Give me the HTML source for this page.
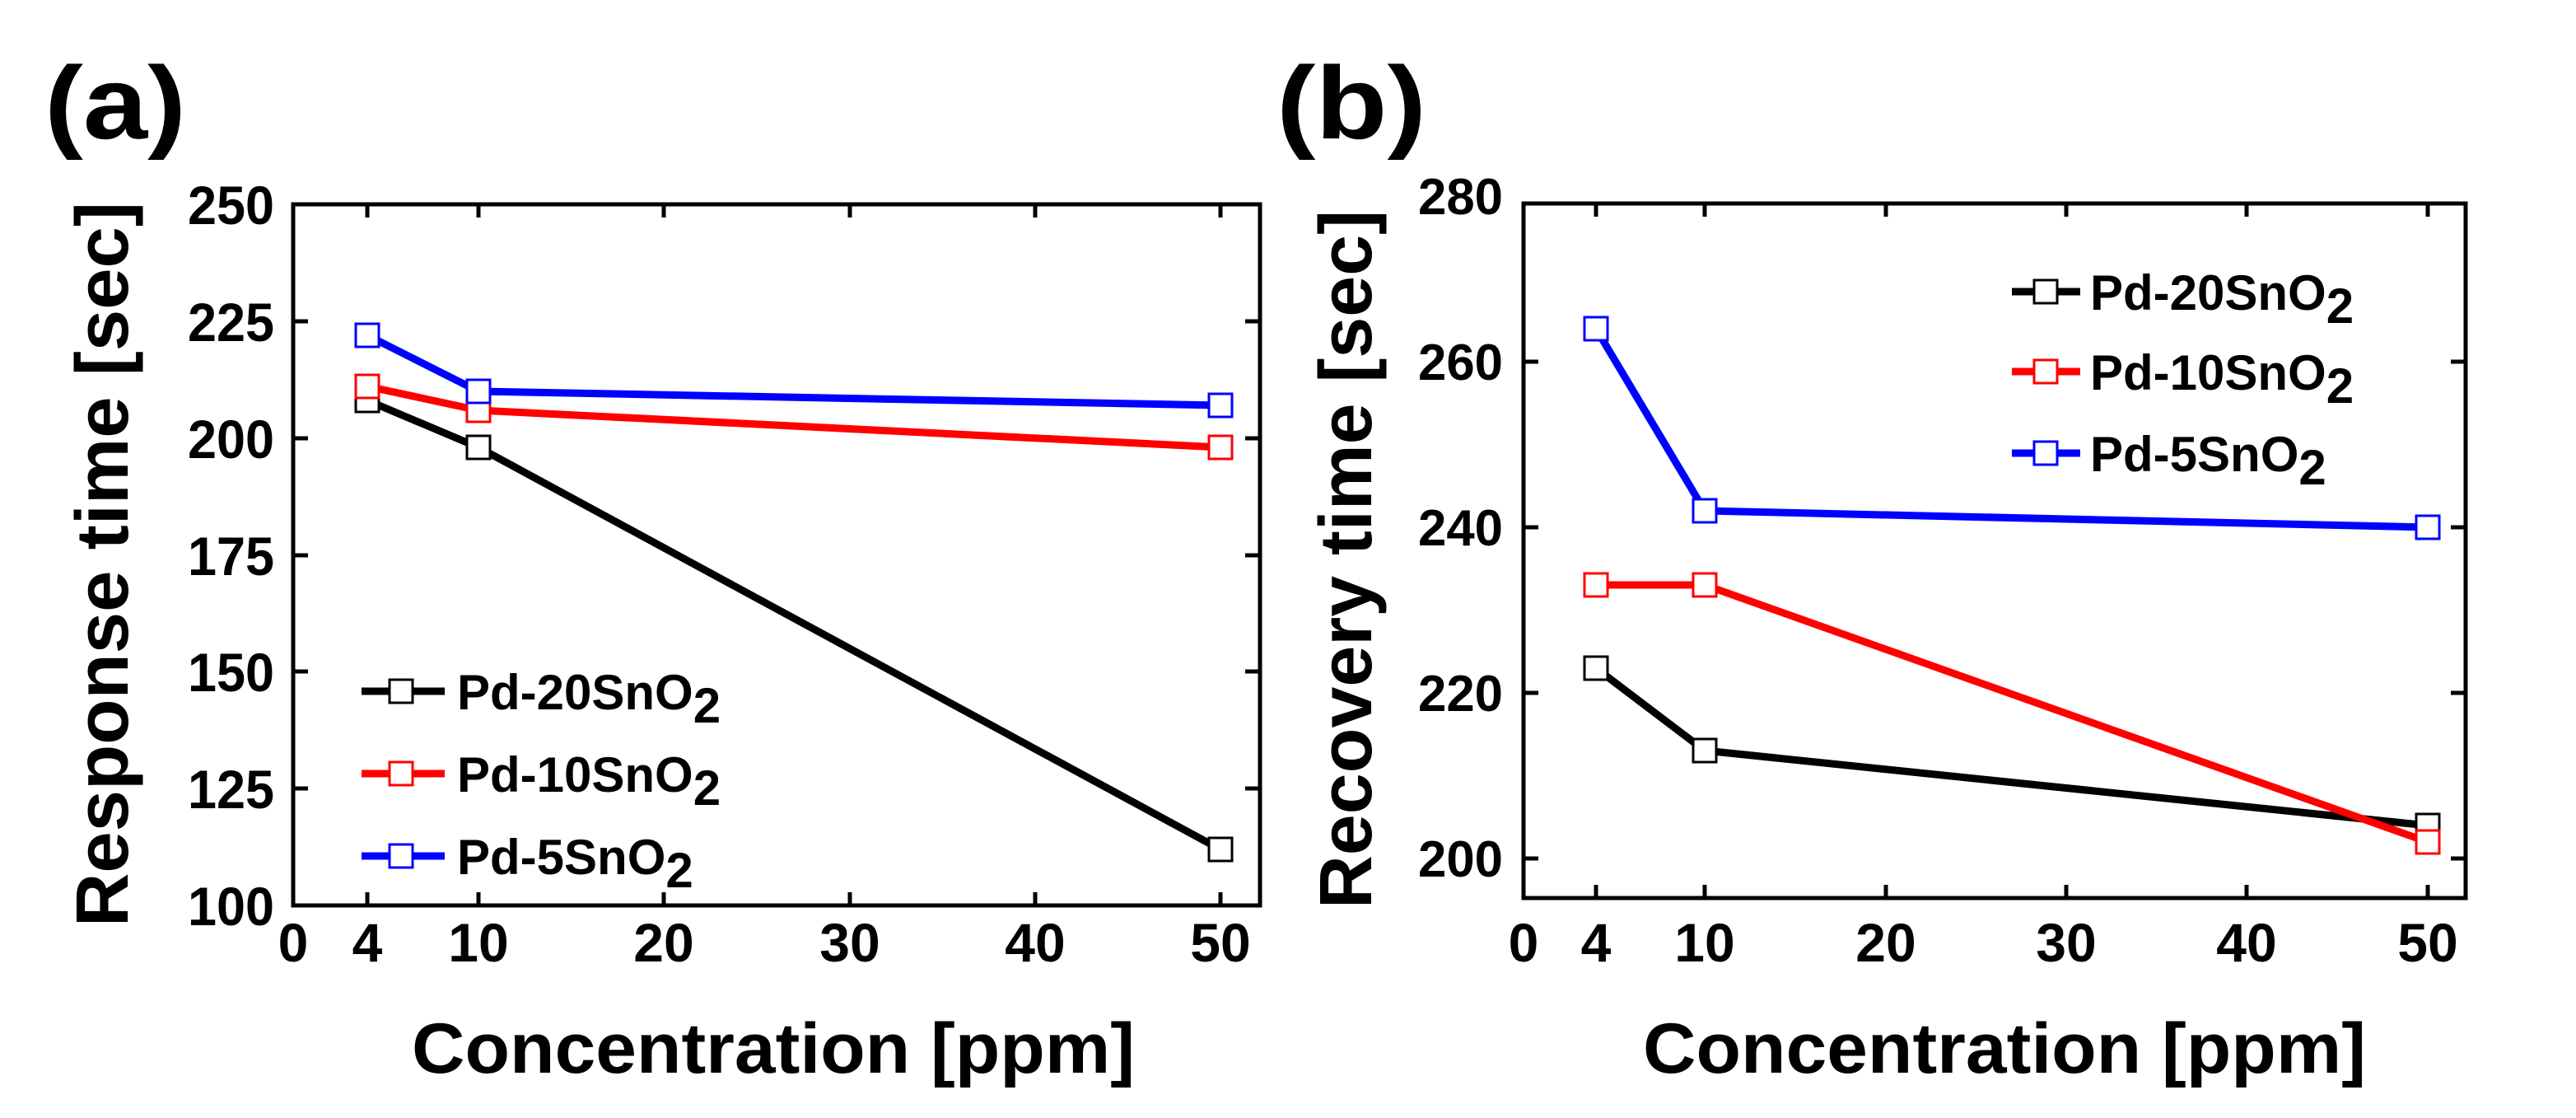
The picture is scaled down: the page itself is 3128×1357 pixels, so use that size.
<!DOCTYPE html>
<html><head><meta charset="utf-8"><style>html,body{margin:0;padding:0;background:#fff;}svg{display:block;}</style></head>
<body>
<svg width="3128" height="1357" viewBox="0 0 3128 1357" xmlns="http://www.w3.org/2000/svg" font-family="Liberation Sans, Arial, sans-serif" font-weight="bold">
<rect width="3128" height="1357" fill="#fff"/>
<text x="54" y="168" font-size="125" textLength="172" lengthAdjust="spacingAndGlyphs">(a)</text>
<text x="1550" y="168" font-size="125" textLength="182" lengthAdjust="spacingAndGlyphs">(b)</text>

<!-- ===== Panel A ===== -->
<g stroke="#000" stroke-width="5" fill="none">
<rect x="356" y="248" width="1174" height="851"/>
<path d="M356 957h18M356 815h18M356 674h18M356 532h18M356 390h18M1530 957h-18M1530 815h-18M1530 674h-18M1530 532h-18M1530 390h-18"/>
<path d="M446 1099v-16M581 1099v-16M806 1099v-16M1032 1099v-16M1257 1099v-16M1482 1099v-16M446 248v16M581 248v16M806 248v16M1032 248v16M1257 248v16M1482 248v16"/>
</g>
<g font-size="66" text-anchor="end">
<text x="333" y="272" textLength="105" lengthAdjust="spacingAndGlyphs">250</text>
<text x="333" y="414" textLength="105" lengthAdjust="spacingAndGlyphs">225</text>
<text x="333" y="556" textLength="105" lengthAdjust="spacingAndGlyphs">200</text>
<text x="333" y="698" textLength="105" lengthAdjust="spacingAndGlyphs">175</text>
<text x="333" y="839" textLength="105" lengthAdjust="spacingAndGlyphs">150</text>
<text x="333" y="981" textLength="105" lengthAdjust="spacingAndGlyphs">125</text>
<text x="333" y="1123" textLength="105" lengthAdjust="spacingAndGlyphs">100</text>
</g>
<g font-size="66" text-anchor="middle">
<text x="356" y="1167">0</text><text x="446" y="1167">4</text><text x="581" y="1167">10</text><text x="806" y="1167">20</text><text x="1032" y="1167">30</text><text x="1257" y="1167">40</text><text x="1482" y="1167">50</text>
</g>
<text x="500" y="1302" font-size="86" textLength="878" lengthAdjust="spacingAndGlyphs">Concentration [ppm]</text>
<text transform="translate(155,1125) rotate(-90)" font-size="90" textLength="880" lengthAdjust="spacingAndGlyphs">Response time [sec]</text>

<g fill="none" stroke-width="9" stroke-linejoin="round">
<polyline stroke="#000" points="446,486 581,543 1482,1031"/>
<polyline stroke="#f00" points="446,469 581,498 1482,543"/>
<polyline stroke="#00f" points="446,407 581,475 1482,492"/>
</g>
<g fill="#fff" stroke-width="3">
<g stroke="#000"><rect x="432" y="472" width="28" height="28"/><rect x="567" y="529" width="28" height="28"/><rect x="1468" y="1017" width="28" height="28"/></g>
<g stroke="#f00"><rect x="432" y="455" width="28" height="28"/><rect x="567" y="484" width="28" height="28"/><rect x="1468" y="529" width="28" height="28"/></g>
<g stroke="#00f"><rect x="432" y="393" width="28" height="28"/><rect x="567" y="461" width="28" height="28"/><rect x="1468" y="478" width="28" height="28"/></g>
</g>
<g stroke-width="9"><path d="M439 839h101" stroke="#000"/><path d="M439 939h101" stroke="#f00"/><path d="M439 1039h101" stroke="#00f"/></g>
<g fill="#fff" stroke-width="3"><rect x="473" y="825" width="28" height="28" stroke="#000"/><rect x="473" y="925" width="28" height="28" stroke="#f00"/><rect x="473" y="1025" width="28" height="28" stroke="#00f"/></g>
<g font-size="60">
<text x="555" y="861">Pd-20SnO<tspan dy="16">2</tspan></text>
<text x="555" y="961">Pd-10SnO<tspan dy="16">2</tspan></text>
<text x="555" y="1061">Pd-5SnO<tspan dy="16">2</tspan></text>
</g>

<!-- ===== Panel B ===== -->
<g stroke="#000" stroke-width="5" fill="none">
<rect x="1850" y="247" width="1144" height="843"/>
<path d="M1850 1042h18M1850 841h18M1850 640h18M1850 439h18M2994 1042h-18M2994 841h-18M2994 640h-18M2994 439h-18"/>
<path d="M1938 1090v-16M2070 1090v-16M2290 1090v-16M2509 1090v-16M2728 1090v-16M2948 1090v-16M1938 247v16M2070 247v16M2290 247v16M2509 247v16M2728 247v16M2948 247v16"/>
</g>
<g font-size="62" text-anchor="end">
<text x="1825" y="260" textLength="103" lengthAdjust="spacingAndGlyphs">280</text>
<text x="1825" y="461" textLength="103" lengthAdjust="spacingAndGlyphs">260</text>
<text x="1825" y="662" textLength="103" lengthAdjust="spacingAndGlyphs">240</text>
<text x="1825" y="863" textLength="103" lengthAdjust="spacingAndGlyphs">220</text>
<text x="1825" y="1064" textLength="103" lengthAdjust="spacingAndGlyphs">200</text>
</g>
<g font-size="66" text-anchor="middle">
<text x="1850" y="1167">0</text><text x="1938" y="1167">4</text><text x="2070" y="1167">10</text><text x="2290" y="1167">20</text><text x="2509" y="1167">30</text><text x="2728" y="1167">40</text><text x="2948" y="1167">50</text>
</g>
<text x="1995" y="1302" font-size="86" textLength="878" lengthAdjust="spacingAndGlyphs">Concentration [ppm]</text>
<text transform="translate(1665,1103) rotate(-90)" font-size="90" textLength="848" lengthAdjust="spacingAndGlyphs">Recovery time [sec]</text>

<g fill="none" stroke-width="9" stroke-linejoin="round">
<polyline stroke="#000" points="1938,811 2070,911 2948,1002"/>
<polyline stroke="#f00" points="1938,710 2070,710 2948,1022"/>
<polyline stroke="#00f" points="1938,399 2070,620 2948,640"/>
</g>
<g fill="#fff" stroke-width="3">
<g stroke="#000"><rect x="1924" y="797" width="28" height="28"/><rect x="2056" y="897" width="28" height="28"/><rect x="2934" y="988" width="28" height="28"/></g>
<g stroke="#f00"><rect x="1924" y="696" width="28" height="28"/><rect x="2056" y="696" width="28" height="28"/><rect x="2934" y="1008" width="28" height="28"/></g>
<g stroke="#00f"><rect x="1924" y="385" width="28" height="28"/><rect x="2056" y="606" width="28" height="28"/><rect x="2934" y="626" width="28" height="28"/></g>
</g>
<g stroke-width="9"><path d="M2443 354h83" stroke="#000"/><path d="M2443 451h83" stroke="#f00"/><path d="M2443 550h83" stroke="#00f"/></g>
<g fill="#fff" stroke-width="3"><rect x="2470" y="340" width="28" height="28" stroke="#000"/><rect x="2470" y="437" width="28" height="28" stroke="#f00"/><rect x="2470" y="536" width="28" height="28" stroke="#00f"/></g>
<g font-size="60">
<text x="2538" y="376">Pd-20SnO<tspan dy="16">2</tspan></text>
<text x="2538" y="473">Pd-10SnO<tspan dy="16">2</tspan></text>
<text x="2538" y="572">Pd-5SnO<tspan dy="16">2</tspan></text>
</g>
</svg>
</body></html>
